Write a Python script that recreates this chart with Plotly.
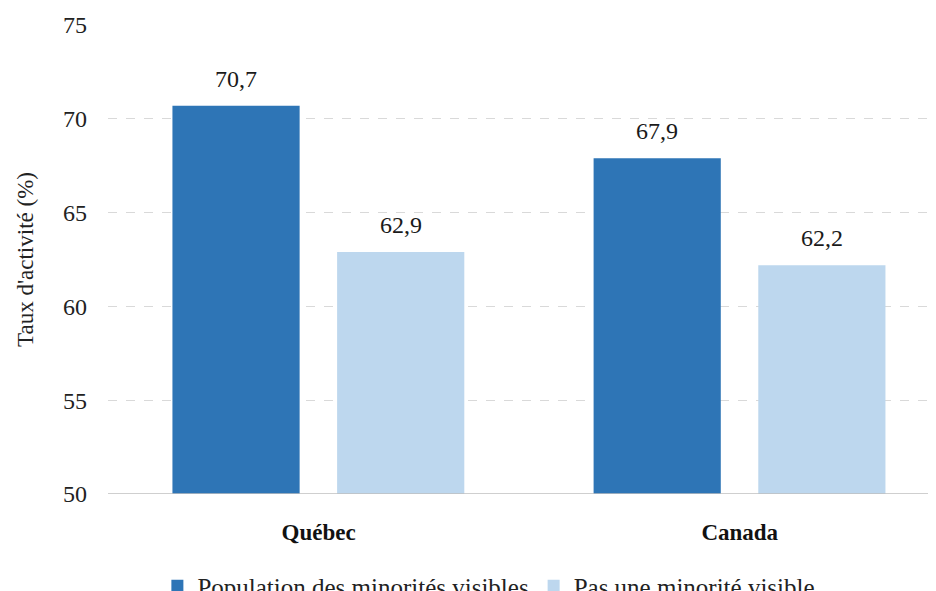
import plotly.graph_objects as go

categories = ["Québec", "Canada"]
series_names = ["Population des minorités visibles", "Pas une minorité visible"]
minorites = [70.7, 67.9]
pas_minorite = [62.9, 62.2]
y_ticks = [50, 55, 60, 65, 70, 75]

colors = ["#2E75B6", "#BDD7EE"]
FONT = "Liberation Serif"

def fr(v):
    return f"{v:.1f}".replace(".", ",")

W, H = 928, 583
L, R, T, B = 100, 0, 17, 97
x_range = [-0.5, 1.466]
px_per_unit = (W - L - R) / (x_range[1] - x_range[0])
bar_w = 0.302
offsets = [-0.347, 0.044]
plot_h = H - T - B

fig = go.Figure()
series = [minorites, pas_minorite]
for name, vals, col, off in zip(series_names, series, colors, offsets):
    fig.add_trace(go.Bar(
        x=categories, y=vals, name=name,
        marker=dict(color=col, line=dict(width=0)),
        width=bar_w, offset=off,
    ))
    for cat, v in zip(categories, vals):
        fig.add_annotation(
            x=cat, y=v, text=fr(v), showarrow=False,
            xref="x", yref="y", yanchor="bottom",
            xshift=(off + bar_w / 2) * px_per_unit, yshift=12,
            font=dict(family=FONT, size=24, color="#1a1a1a"),
        )

fig.update_layout(
    width=W, height=H,
    margin=dict(l=L, r=R, t=T, b=B, autoexpand=False),
    paper_bgcolor="white", plot_bgcolor="white",
    font=dict(family=FONT, size=22, color="#222222"),
    barmode="group",
    showlegend=True,
    legend=dict(
        orientation="h", xref="paper", yref="paper",
        x=0.46, xanchor="center", y=-92 / plot_h, yanchor="middle",
        font=dict(family=FONT, size=25, color="#222222"),
        itemwidth=30, traceorder="normal",
    ),
    xaxis=dict(
        range=x_range, showgrid=False, showline=False, zeroline=False,
        tickfont=dict(family=FONT, size=23, color="#111111", weight="bold"),
        ticks="", ticklabelstandoff=22,
    ),
    yaxis=dict(
        range=[50, 75], tickvals=y_ticks, ticktext=[str(t) for t in y_ticks],
        showgrid=True, gridcolor="#D9D9D9", griddash="dash", gridwidth=1,
        zeroline=False, showline=False,
        tickfont=dict(family=FONT, size=24, color="#222222"),
        ticks="", ticklabelstandoff=20,
        title=dict(text="Taux d'activité (%)", font=dict(family=FONT, size=23, color="#222222"), standoff=22),
    ),
)
fig.add_shape(type="line", xref="paper", yref="y", x0=0, x1=1, y0=50, y1=50,
              line=dict(color="#BFBFBF", width=1.5))

fig.write_html("out.html")
